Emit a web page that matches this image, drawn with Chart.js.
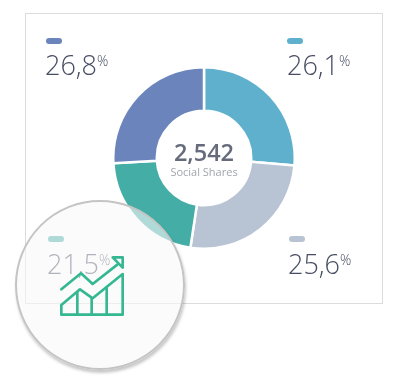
<!DOCTYPE html>
<html>
<head>
<meta charset="utf-8">
<script src="https://cdn.jsdelivr.net/npm/chart.js@4"></script>
<style>
  html, body { margin: 0; padding: 0; background: #fff; width: 398px; height: 380px; overflow: hidden; }
  body { position: relative; font-family: "Open Sans", sans-serif; }
  .box { position: absolute; left: 25px; top: 13px; width: 356px; height: 289px; border: 1px solid #dcdcdc; }
  #shareChart { position: absolute; left: 112px; top: 66px; }
  .pill { position: absolute; width: 16px; height: 6px; border-radius: 3px; }
  .val { position: absolute; font-size: 27px; font-weight: 300; line-height: 34px; color: #474d62; white-space: nowrap; }
  .val sup { font-size: 14px; line-height: 0; vertical-align: 9px; }
  .centre { position: absolute; left: 144px; width: 120px; text-align: center; white-space: nowrap; }
  .total { top: 137px; font-size: 23.5px; line-height: 30px; color: #666b7c; font-weight: 600; }
  .sub { top: 164px; font-size: 11px; line-height: 15px; color: #a2a5ae; }
  .lens { position: absolute; left: 15px; top: 200px; width: 170px; height: 170px; box-sizing: border-box; border-radius: 50%;
          background: rgba(248,248,248,0.6); border: 2px solid #c4c4c4; box-shadow: 1px 3px 3px rgba(0,0,0,0.22); }
  .icon { position: absolute; left: 0; top: 190px; }
</style>
</head>
<body>
<div class="box"></div>
<canvas id="shareChart" width="184" height="184"></canvas>
<div class="centre total" id="total"></div>
<div class="centre sub" id="sub"></div>
<div id="legend"></div>
<div class="lens"></div>
<svg class="icon" width="200" height="190" viewBox="0 0 600 570">
  <g fill="none" stroke="#35b892" stroke-width="8" stroke-linejoin="round" stroke-linecap="round">
    <polyline points="184,298 243,250 278,282 352,224"/>
    <polygon points="338,202 368,202 368,233"/>
    <polygon points="184,374 368,374 368,252 278,325 240,298 184,345"/>
    <line x1="232" y1="306" x2="232" y2="374"/>
    <line x1="275" y1="325" x2="275" y2="374"/>
    <line x1="320" y1="292" x2="320" y2="374"/>
  </g>
</svg>
<script>
  /* data */
  const categories = ['Teal blue', 'Grey', 'Green', 'Blue'];
  // printed labels and drawn slices differ a little in the picture, so both are kept
  const shareLabels = ['26,1', '25,6', '21,5', '26,8'];
  const sliceValues = [26.3, 26.1, 21.7, 25.9];
  const colors = ['#5eb0cd', '#b8c3d3', '#43ada6', '#6b84bb'];
  const totalLabel = '2,542';
  const subLabel = 'Social Shares';

  /* legend spots, same order as shareLabels */
  const pillSpots = [[287, 38], [289, 236], [48, 236], [46, 38]];
  const valSpots = [[287, 48], [288, 247], [47, 247], [45, 48]];

  document.getElementById('total').textContent = totalLabel;
  document.getElementById('sub').textContent = subLabel;

  const legend = document.getElementById('legend');
  shareLabels.forEach((label, i) => {
    const pill = document.createElement('div');
    pill.className = 'pill';
    pill.style.cssText = `left:${pillSpots[i][0]}px;top:${pillSpots[i][1]}px;background:${colors[i]}`;
    legend.appendChild(pill);
    const val = document.createElement('div');
    val.className = 'val';
    val.style.cssText = `left:${valSpots[i][0]}px;top:${valSpots[i][1]}px`;
    val.innerHTML = label + '<sup>%</sup>';
    legend.appendChild(val);
  });

  new Chart(document.getElementById('shareChart'), {
    type: 'doughnut',
    data: {
      labels: categories,
      datasets: [{
        data: sliceValues,
        backgroundColor: colors,
        borderColor: '#fff',
        borderWidth: 2.5
      }]
    },
    options: {
      responsive: false,
      animation: false,
      cutout: '52%',
      plugins: { legend: { display: false }, tooltip: { enabled: false } }
    }
  });
</script>
</body>
</html>
